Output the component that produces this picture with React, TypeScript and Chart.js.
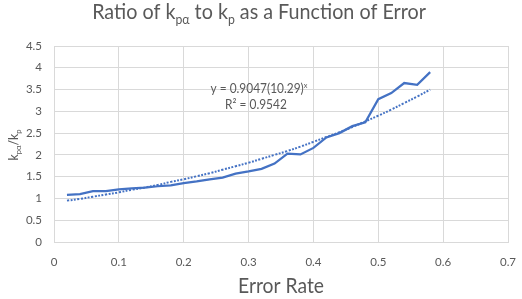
import React, { useEffect, useRef } from "react";
import { Chart, registerables } from "chart.js";

Chart.register(...registerables);

// ---- data ----
const errorRates = [
  0.02, 0.04, 0.06, 0.08, 0.1, 0.12, 0.14, 0.16, 0.18, 0.2, 0.22, 0.24, 0.26, 0.28, 0.3,
  0.32, 0.34, 0.36, 0.38, 0.4, 0.42, 0.44, 0.46, 0.48, 0.5, 0.52, 0.54, 0.56, 0.58,
];
const ratioValues = [
  1.08, 1.1, 1.17, 1.17, 1.21, 1.23, 1.25, 1.28, 1.3, 1.35, 1.39, 1.44, 1.48, 1.57, 1.62,
  1.68, 1.8, 2.03, 2.01, 2.16, 2.4, 2.5, 2.66, 2.75, 3.28, 3.42, 3.65, 3.61, 3.9,
];
// exponential trendline values
const trendValues = [
  0.95, 0.99, 1.04, 1.09, 1.14, 1.2, 1.25, 1.31, 1.38, 1.44, 1.51, 1.58, 1.66, 1.74, 1.82,
  1.91, 2.0, 2.09, 2.19, 2.3, 2.41, 2.52, 2.64, 2.77, 2.9, 3.04, 3.19, 3.34, 3.5,
];
const xTickValues = [0, 0.1, 0.2, 0.3, 0.4, 0.5, 0.6, 0.7];
const xTickLabels = ["0", "0.1", "0.2", "0.3", "0.4", "0.5", "0.6", "0.7"];
const yTickValues = [0, 0.5, 1, 1.5, 2, 2.5, 3, 3.5, 4, 4.5];
const yTickLabels = ["0", "0.5", "1", "1.5", "2", "2.5", "3", "3.5", "4", "4.5"];
const equationText = "y = 0.9047(10.29)";
const equationSup = "x";
const rSquaredText = "R² = 0.9542";

type Seg = { t: string; mode?: "sub" | "sup" };

const FAMILY = "Lato, 'Liberation Sans', sans-serif";
const TEXT = "#595959";
const BLUE = "#4472C4";
const GRID = "#D9D9D9";
const CONDENSE = 0.9;

const titleSegs: Seg[] = [
  { t: "Ratio of k" },
  { t: "pα", mode: "sub" },
  { t: " to k" },
  { t: "p", mode: "sub" },
  { t: " as a Function of Error" },
];
const yTitleSegs: Seg[] = [
  { t: "k" },
  { t: "pα", mode: "sub" },
  { t: "/k" },
  { t: "p", mode: "sub" },
];
const xTitleSegs: Seg[] = [{ t: "Error Rate" }];
const eqSegs: Seg[] = [{ t: equationText }, { t: equationSup, mode: "sup" }];
const r2Segs: Seg[] = [{ t: rSquaredText }];

function segFont(size: number, mode?: string) {
  return `${mode ? size * 0.62 : size}px ${FAMILY}`;
}
function richWidth(ctx: CanvasRenderingContext2D, segs: Seg[], size: number) {
  let w = 0;
  for (const s of segs) {
    ctx.font = segFont(size, s.mode);
    w += ctx.measureText(s.t).width;
  }
  return w * CONDENSE;
}
function fitSize(ctx: CanvasRenderingContext2D, segs: Seg[], target: number) {
  const w = richWidth(ctx, segs, 20);
  return (20 * target) / w;
}
function drawRich(
  ctx: CanvasRenderingContext2D,
  segs: Seg[],
  x: number,
  y: number,
  size: number
) {
  const total = richWidth(ctx, segs, size);
  ctx.save();
  ctx.translate(x - total / 2, y);
  ctx.scale(CONDENSE, 1);
  let cx = 0;
  ctx.textBaseline = "alphabetic";
  ctx.textAlign = "left";
  ctx.fillStyle = TEXT;
  for (const s of segs) {
    ctx.font = segFont(size, s.mode);
    const dy = s.mode === "sub" ? size * 0.25 : s.mode === "sup" ? -size * 0.38 : 0;
    ctx.fillText(s.t, cx, dy);
    cx += ctx.measureText(s.t).width;
  }
  ctx.restore();
}

const textPlugin = {
  id: "richText",
  afterDatasetsDraw(chart: any) {
    const ctx: CanvasRenderingContext2D = chart.ctx;
    const area = chart.chartArea;
    const xs = chart.scales.x;
    const ys = chart.scales.y;
    ctx.save();
    // title
    drawRich(ctx, titleSegs, 259, 19, fitSize(ctx, titleSegs, 334));
    // x title
    drawRich(ctx, xTitleSegs, (area.left + area.right) / 2, 293, fitSize(ctx, xTitleSegs, 86));
    // y title
    ctx.save();
    ctx.translate(18, (area.top + area.bottom) / 2 + 1);
    ctx.rotate(-Math.PI / 2);
    drawRich(ctx, yTitleSegs, 0, 0, fitSize(ctx, yTitleSegs, 31));
    ctx.restore();
    // trendline label
    const eqSize = fitSize(ctx, eqSegs, 97);
    const ax = xs.getPixelForValue(0.316);
    drawRich(ctx, eqSegs, ax, ys.getPixelForValue(3.42), eqSize);
    drawRich(ctx, r2Segs, ax - 3, ys.getPixelForValue(3.05), eqSize);
    ctx.restore();
  },
};

export default function App() {
  const ref = useRef<HTMLCanvasElement | null>(null);
  useEffect(() => {
    if (!ref.current) return;
    const chart = new Chart(ref.current, {
      type: "scatter",
      data: {
        datasets: [
          {
            label: "Ratio",
            data: errorRates.map((x, i) => ({ x, y: ratioValues[i] })),
            showLine: true,
            borderColor: BLUE,
            backgroundColor: BLUE,
            borderWidth: 2.25,
            pointRadius: 0,
            tension: 0,
            order: 2,
          },
          {
            label: "Expon. trend",
            data: errorRates.map((x, i) => ({ x, y: trendValues[i] })),
            showLine: true,
            borderColor: BLUE,
            backgroundColor: BLUE,
            borderWidth: 2,
            borderDash: [2, 1.5],
            pointRadius: 0,
            tension: 0.4,
            order: 1,
          },
        ],
      },
      options: {
        animation: false,
        responsive: false,
        layout: { padding: { top: 46, right: 14, left: 0, bottom: 0 } },
        plugins: {
          legend: { display: false },
          tooltip: { enabled: false },
          title: { display: false },
        },
        scales: {
          x: {
            type: "linear",
            min: 0,
            max: 0.7,
            afterFit: (s: any) => {
              s.height = 57;
            },
            afterBuildTicks: (s: any) => {
              s.ticks = xTickValues.map((v) => ({ value: v }));
            },
            ticks: {
              color: TEXT,
              font: { family: FAMILY, size: 11.5 },
              padding: 3,
              maxRotation: 0,
              autoSkip: false,
              callback: (v: any) => {
                const i = xTickValues.findIndex((t) => Math.abs(t - v) < 1e-9);
                return i >= 0 ? xTickLabels[i] : "";
              },
            },
            grid: {
              color: GRID,
              lineWidth: 1,
              drawTicks: true,
              tickLength: 10,
              tickColor: "rgba(0,0,0,0)",
            },
            border: { color: GRID, width: 1 },
          },
          y: {
            type: "linear",
            min: 0,
            max: 4.5,
            afterFit: (s: any) => {
              s.width = 54;
            },
            afterBuildTicks: (s: any) => {
              s.ticks = yTickValues.map((v) => ({ value: v }));
            },
            ticks: {
              color: TEXT,
              font: { family: FAMILY, size: 11.5 },
              padding: 12,
              autoSkip: false,
              callback: (v: any) => {
                const i = yTickValues.findIndex((t) => Math.abs(t - v) < 1e-9);
                return i >= 0 ? yTickLabels[i] : "";
              },
            },
            grid: { color: GRID, lineWidth: 1, drawTicks: false },
            border: { color: GRID, width: 1 },
          },
        },
      },
      plugins: [textPlugin],
    });
    return () => chart.destroy();
  }, []);
  return (
    <div style={{ position: "absolute", left: 0, top: 0, width: 522, height: 299, background: "#fff" }}>
      <canvas ref={ref} width={522} height={299} style={{ display: "block" }} />
    </div>
  );
}
